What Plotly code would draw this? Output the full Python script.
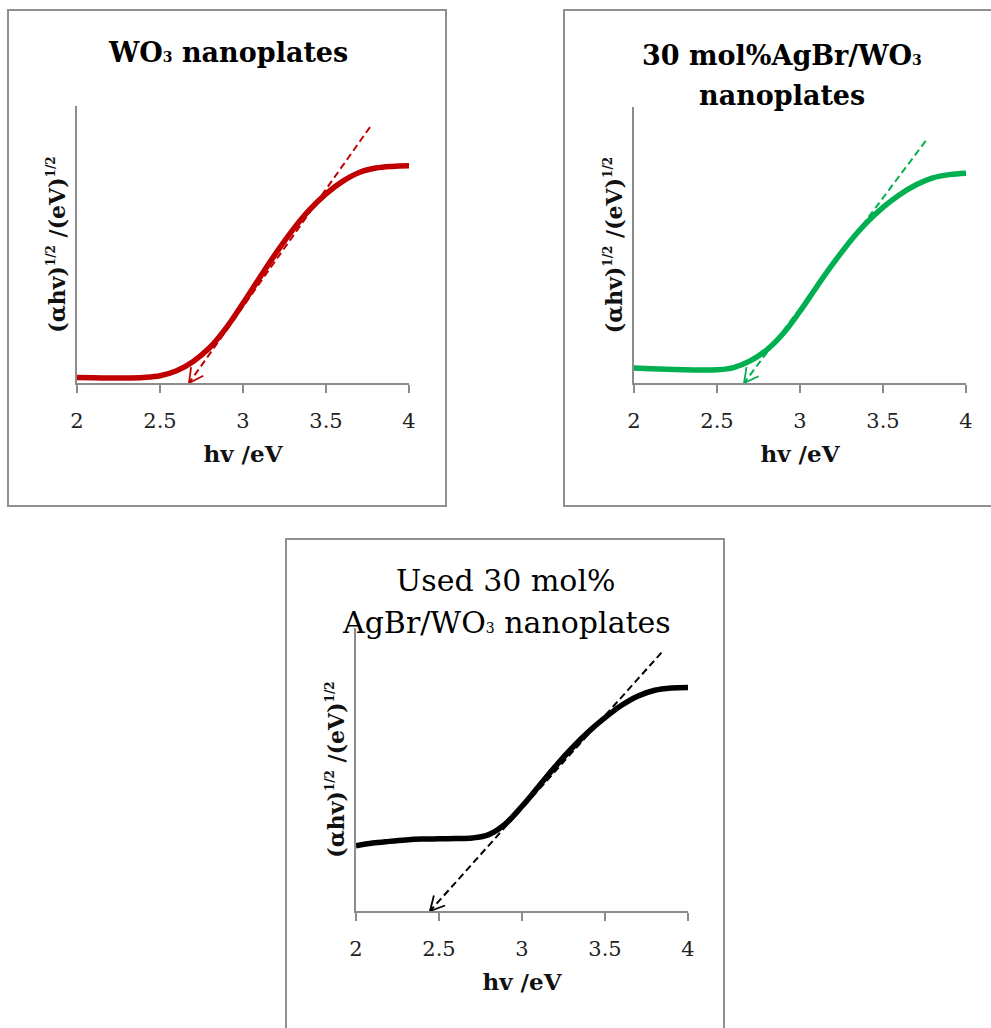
import plotly.graph_objects as go
import math

W, H = 991, 1028

# photon energy grid (eV)
hv = [2.0, 2.1, 2.2, 2.3, 2.4, 2.5, 2.6, 2.7, 2.8, 2.9, 3.0,
      3.1, 3.2, 3.3, 3.4, 3.5, 3.6, 3.7, 3.8, 3.9, 4.0]

# Tauc plot values, (αhv)^1/2 in arbitrary units
wo3 = [0.020, 0.019, 0.018, 0.018, 0.020, 0.026, 0.044, 0.078, 0.128, 0.200, 0.288,
       0.380, 0.470, 0.553, 0.625, 0.683, 0.728, 0.760, 0.776, 0.782, 0.784]
agbr_wo3 = [0.054, 0.052, 0.050, 0.048, 0.047, 0.048, 0.056, 0.080, 0.120, 0.180, 0.260,
            0.348, 0.433, 0.512, 0.580, 0.636, 0.682, 0.718, 0.743, 0.755, 0.760]
used_agbr_wo3 = [0.230, 0.240, 0.246, 0.251, 0.254, 0.255, 0.256, 0.258, 0.270, 0.308, 0.370,
                 0.440, 0.510, 0.575, 0.633, 0.683, 0.727, 0.760, 0.780, 0.788, 0.790]

# tangent (band-gap extrapolation) lines: upper end and x-intercept
tan_wo3 = {"x": [3.765, 2.675], "y": [0.924, 0.0]}
tan_agbr = {"x": [3.757, 2.663], "y": [0.877, 0.0]}
tan_used = {"x": [3.84, 2.446], "y": [0.913, 0.0]}

x_ticks = [2, 2.5, 3, 3.5, 4]
x_tick_text = ["2", "2.5", "3", "3.5", "4"]

FONT = "DejaVu Serif"
AXIS_GRAY = "#8c8c8c"

panels = [
    dict(y=wo3, tan=tan_wo3, color="#C00000",
         xdom=[77 / W, 409 / W], ydom=[1 - 383 / H, 1 - 106 / H]),
    dict(y=agbr_wo3, tan=tan_agbr, color="#00B050",
         xdom=[634 / W, 966 / W], ydom=[1 - 383 / H, 1 - 107 / H]),
    dict(y=used_agbr_wo3, tan=tan_used, color="#000000",
         xdom=[356 / W, 688 / W], ydom=[1 - 911 / H, 1 - 628 / H]),
]

XR = [2, 4]
YR = [0, 1]

fig = go.Figure()
layout = {}

half = "<sup><span style='font-size:12px'>1/2</span></sup>"
y_title = f"<b>(αhv){half} /(eV){half}</b>"

for i, p in enumerate(panels, start=1):
    xa = "x" if i == 1 else f"x{i}"
    ya = "y" if i == 1 else f"y{i}"
    fig.add_trace(go.Scatter(x=hv, y=p["y"], mode="lines", xaxis=xa, yaxis=ya,
                             line=dict(color=p["color"], width=5.5, shape="spline", smoothing=1.0),
                             showlegend=False, hoverinfo="skip"))
    tx, ty = p["tan"]["x"], p["tan"]["y"]
    fig.add_trace(go.Scatter(x=tx, y=ty, mode="lines", xaxis=xa, yaxis=ya,
                             line=dict(color=p["color"], width=2, dash="7px,4px"),
                             showlegend=False, hoverinfo="skip"))
    # open arrowhead at the x-intercept, built in pixel space of the plot area
    pw = (p["xdom"][1] - p["xdom"][0]) * W
    ph = (p["ydom"][1] - p["ydom"][0]) * H
    sx = pw / (XR[1] - XR[0])
    sy = ph / (YR[1] - YR[0])
    dxp = (tx[0] - tx[1]) * sx
    dyp = (ty[0] - ty[1]) * sy
    ang = math.atan2(dyp, dxp)
    L = 16
    hx, hy = [], []
    for s in (1, -1):
        a = ang + s * math.radians(28)
        hx += [tx[1] + L * math.cos(a) / sx, tx[1], None]
        hy += [ty[1] + L * math.sin(a) / sy, ty[1], None]
    fig.add_trace(go.Scatter(x=hx, y=hy, mode="lines", xaxis=xa, yaxis=ya,
                             line=dict(color=p["color"], width=1.8),
                             showlegend=False, hoverinfo="skip", cliponaxis=False))

    layout["xaxis" if i == 1 else f"xaxis{i}"] = dict(
        domain=p["xdom"], range=XR, anchor=ya, tickvals=x_ticks, ticktext=x_tick_text,
        ticks="outside", ticklen=8, tickwidth=1.5, tickcolor=AXIS_GRAY,
        ticklabelstandoff=10, automargin=False,
        showline=True, linecolor=AXIS_GRAY, linewidth=1.5, showgrid=False, zeroline=False,
        tickfont=dict(family=FONT, size=21, color="#222"),
        title=dict(text="<b>hv /eV</b>", font=dict(family=FONT, size=23, color="#111"), standoff=14),
        fixedrange=True)
    layout["yaxis" if i == 1 else f"yaxis{i}"] = dict(
        domain=p["ydom"], range=YR, anchor=xa, showticklabels=False, ticks="",
        automargin=False,
        showline=True, linecolor=AXIS_GRAY, linewidth=1.5, showgrid=False, zeroline=False,
        title=dict(text=y_title, font=dict(family=FONT, size=22, color="#111"), standoff=4),
        fixedrange=True)

sub3 = "<span style='font-size:14px'>3</span>"
titles = [
    (228, 52, f"<b>WO{sub3} nanoplates</b>", 27),
    (782, 55, f"<b>30 mol%AgBr/WO{sub3}</b>", 27),
    (782, 95, "<b>nanoplates</b>", 27),
    (506, 580, "Used 30 mol%", 30),
    (506, 622, f"AgBr/WO{sub3} nanoplates", 30),
]
annotations = [dict(x=x / W, y=1 - y / H, xref="paper", yref="paper", text=t, showarrow=False,
                    xanchor="center", yanchor="middle",
                    font=dict(family=FONT, size=s, color="#000"))
               for x, y, t, s in titles]

# panel frames
frames = [(8, 10, 446, 506), (564, 10, 1000, 506), (286, 539, 724, 1040)]
shapes = [dict(type="rect", xref="paper", yref="paper",
               x0=a / W, x1=c / W, y0=1 - d / H, y1=1 - b / H,
               line=dict(color="#8f8f8f", width=2), fillcolor="rgba(0,0,0,0)", layer="below")
          for a, b, c, d in frames]

fig.update_layout(width=W, height=H, margin=dict(l=0, r=0, t=0, b=0, autoexpand=False),
                  paper_bgcolor="white", plot_bgcolor="white",
                  annotations=annotations, shapes=shapes, **layout)

fig.write_html("out.html")
